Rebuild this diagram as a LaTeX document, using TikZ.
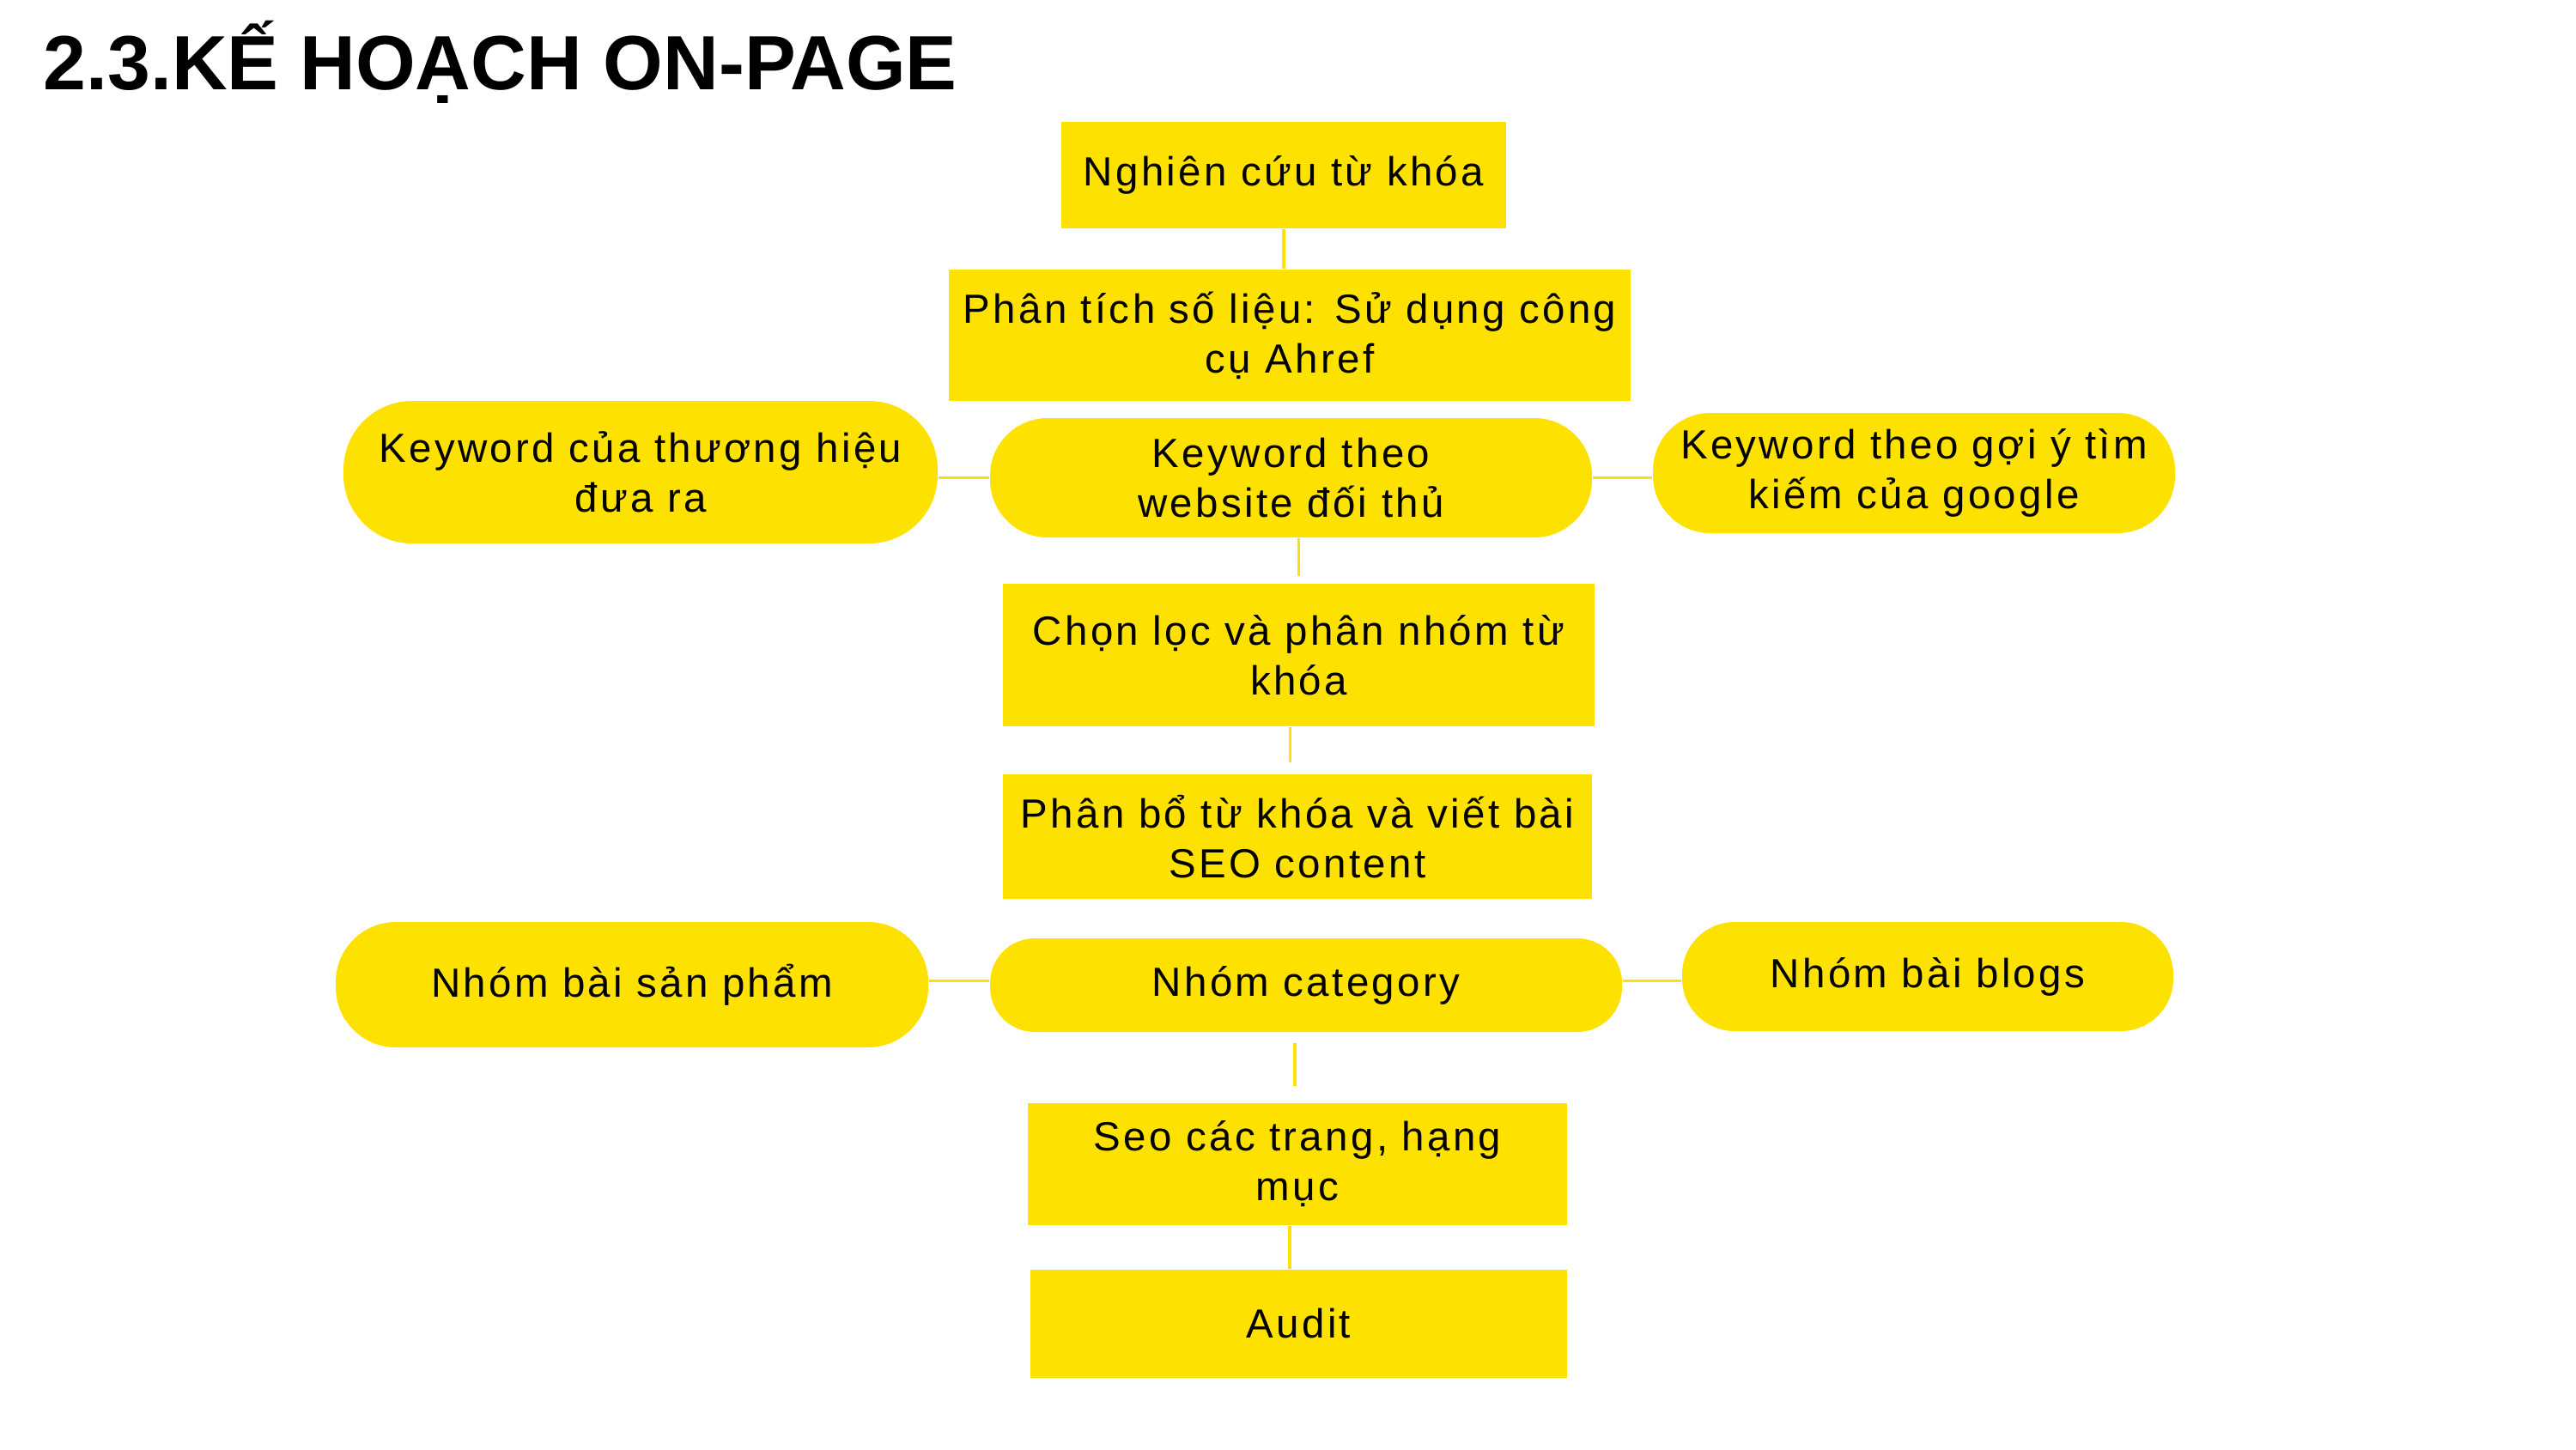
\documentclass[tikz,border=0pt]{standalone}
\usepackage{fontspec}
\setmainfont{Liberation Sans}[LetterSpace=7]
\newfontfamily\headfont{Liberation Sans}
\usepackage{tikz}

\definecolor{planyellow}{RGB}{253,225,0}

\tikzset{
    stepbox/.style={fill=planyellow, inner sep=0pt, align=center,
        font=\fontsize{13.5}{16.5}\selectfont},
    pill/.style={stepbox, rounded corners=#1},
    pill/.default=0.65cm,
    link/.style={draw=planyellow, line width=0.9pt}
}

\begin{document}
\begin{tikzpicture}
    \useasboundingbox (0,0) rectangle (30,-16.88);

        % Title
        \node[anchor=base west, inner sep=0pt, font=\headfont\bfseries\fontsize{25.5}{30}\selectfont] (title) at (0.5,-1.04) {2.3.KẾ HOẠCH ON-PAGE};

        % Defining the steps of the plan
        \node[stepbox, minimum width=5.18cm, minimum height=1.24cm] (research) at (14.95,-2.04) {Nghiên cứu từ khóa};
        \node[stepbox, minimum width=7.94cm, minimum height=1.53cm] (analysis) at (15.02,-3.905) {Phân tích số liệu: Sử dụng công\\cụ Ahref};

        \node[pill=0.8cm, minimum width=6.92cm, minimum height=1.66cm] (brand) at (7.46,-5.50) {Keyword của thương hiệu\\đưa ra};
        \node[pill=0.67cm, minimum width=7.01cm, minimum height=1.39cm] (competitor) at (15.035,-5.565) {Keyword theo\\website đối thủ};
        \node[pill=0.67cm, minimum width=6.08cm, minimum height=1.40cm] (google) at (22.29,-5.51) {Keyword theo gợi ý tìm\\kiếm của google};

        \node[stepbox, minimum width=6.89cm, minimum height=1.66cm] (filter) at (15.125,-7.63) {Chọn lọc và phân nhóm từ\\khóa};
        \node[stepbox, minimum width=6.86cm, minimum height=1.45cm] (content) at (15.11,-9.745) {Phân bổ từ khóa và viết bài\\SEO content};

        \node[pill=0.7cm, minimum width=6.90cm, minimum height=1.46cm] (product) at (7.36,-11.47) {Nhóm bài sản phẩm};
        \node[pill=0.52cm, minimum width=7.36cm, minimum height=1.09cm] (category) at (15.21,-11.475) {Nhóm category};
        \node[pill=0.61cm, minimum width=5.72cm, minimum height=1.27cm] (blogs) at (22.45,-11.375) {Nhóm bài blogs};

        \node[stepbox, minimum width=6.28cm, minimum height=1.42cm] (pages) at (15.11,-13.56) {Seo các trang, hạng\\mục};
        \node[stepbox, minimum width=6.25cm, minimum height=1.26cm] (audit) at (15.125,-15.42) {Audit};

        % Defining the links between the steps
        \draw[link] (research.south) -- (research.south |- analysis.north);
        \draw[link] (competitor.west) -- (competitor.west -| brand.east);
        \draw[link] (competitor.east) -- (competitor.east -| google.west);
        \draw[link, shorten >=0.08cm] ([xshift=0.09cm]competitor.south) -- ([xshift=0.09cm]competitor.south |- filter.north);
        \draw[link, shorten >=0.13cm] ([xshift=-0.1cm]filter.south) -- ([xshift=-0.1cm]filter.south |- content.north);
        \draw[link] ([yshift=0.05cm]category.west) -- ([yshift=0.05cm]category.west -| product.east);
        \draw[link] ([yshift=0.05cm]category.east) -- ([yshift=0.05cm]category.east -| blogs.west);
        \draw[link, shorten <=0.12cm, shorten >=0.19cm] ([xshift=-0.13cm]category.south) -- ([xshift=-0.13cm]category.south |- pages.north);
        \draw[link] ([xshift=-0.09cm]pages.south) -- ([xshift=-0.09cm]pages.south |- audit.north);

\end{tikzpicture}
\end{document}
